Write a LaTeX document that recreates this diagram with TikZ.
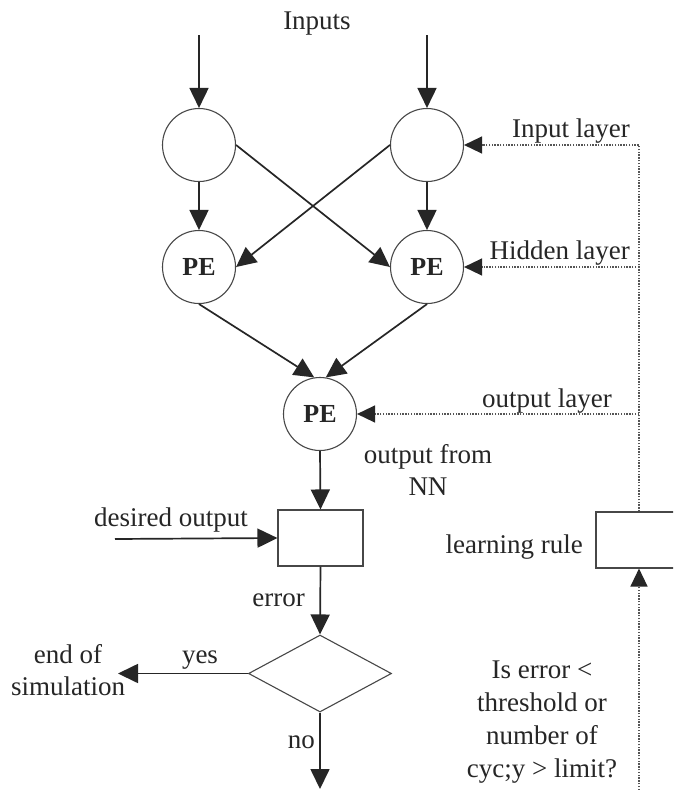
\documentclass[tikz,border=0pt]{standalone}
\usepackage{fontspec}
\setmainfont{Liberation Serif}
\usetikzlibrary{arrows.meta,shapes.geometric}
\definecolor{ink}{HTML}{262626}
\definecolor{rim}{HTML}{474747}
\definecolor{dots}{HTML}{555555}
\tikzset{
  lbl/.style={font=\fontsize{27}{32}\selectfont, text=ink, inner sep=0pt},
  neuron/.style={circle, draw=rim, line width=1.1pt, minimum size=73pt, inner sep=0pt,
    font=\fontsize{26}{30}\selectfont\bfseries, text=ink},
  blockbox/.style={rectangle, draw=rim, line width=1.1pt, inner sep=0pt},
  decision/.style={diamond, draw=rim, line width=1.1pt, inner sep=0pt,
    minimum width=143pt, minimum height=77pt},
  flow/.style={draw=ink, line width=1.7pt, line join=miter,
    -{Triangle[length=20pt,width=19pt,color=ink]}},
  feedback/.style={draw=dots, line width=1.3pt, dash pattern=on 1.4pt off 1.4pt},
  fbarrow/.style={feedback, -{Triangle[length=18pt,width=17pt,color=ink]}},
}
\begin{document}
\begin{tikzpicture}[x=1pt, y=-1pt]
  \useasboundingbox (0,0) rectangle (673,790);
  \fill[white] (0,0) rectangle (673,790);
  \clip (0,0) rectangle (673,790);

  % network: input, hidden and output processing elements
  \node[neuron] (i1) at (199,145) {};
  \node[neuron] (i2) at (427,145) {};
  \node[neuron] (h1) at (199,267) {PE};
  \node[neuron] (h2) at (427,267) {PE};
  \node[neuron] (o)  at (320,414) {PE};

  % comparator, decision and learning rule blocks
  \node[blockbox, minimum width=85pt, minimum height=56pt] (cmp) at (320.5,538) {};
  \node[decision] (dec) at (320,673.5) {};
  \node[blockbox, minimum width=110pt, minimum height=56pt] (rule) at (651,540) {};

  % free ends of connectors
  \coordinate (in1) at (199,35);
  \coordinate (in2) at (427,35);
  \coordinate (des) at (115,539);
  \coordinate (sim) at (118,673.5);
  \coordinate (cont) at (320,789);
  \coordinate (c1) at (639,145);
  \coordinate (c2) at (639,267);
  \coordinate (c3) at (639,414);
  \coordinate (cb) at (639,790);

  % labels (multi-line nodes are placed by the baseline of their last line)
  \node[lbl, anchor=base] (tin) at (317,29) {Inputs};
  \node[lbl, anchor=base east] (til) at (630,137) {Input layer};
  \node[lbl, anchor=base east] (thl) at (630,259) {Hidden layer};
  \node[lbl, anchor=base east] (tol) at (612,407) {output layer};
  \node[lbl, anchor=base, align=center] (tnn) at (428,495) {output from\\NN};
  \node[lbl, anchor=base] (tdo) at (171,526) {desired output};
  \node[lbl, anchor=base east] (ter) at (305,606) {error};
  \node[lbl, anchor=base] (tye) at (200,663) {yes};
  \node[lbl, anchor=base, align=center] (tes) at (68,695) {end of\\simulation};
  \node[lbl, anchor=base east] (tno) at (315,748) {no};
  \node[lbl, anchor=base east] (tlr) at (583,553) {learning rule};
  \node[lbl, anchor=base, align=center, font=\fontsize{27}{33}\selectfont] (tq) at (542,777)
    {Is error <\\threshold or\\number of\\cyc;y > limit?};

  % forward connections
  \draw[flow] (in1) -- (i1.north);
  \draw[flow] (in2) -- (i2.north);
  \draw[flow] (i1.south) -- (h1.north);
  \draw[flow] (i2.south) -- (h2.north);
  \draw[flow] (i1.east) -- (h2.west);
  \draw[flow] (i2.west) -- (h1.east);
  \draw[flow] (h1.south) -- (o.99);
  \draw[flow] (h2.south) -- (o.81);
  \draw[flow] (o.south) -- (cmp.north);
  \draw[flow] (des) -- (cmp.west);
  \draw[flow] (cmp.south) -- (dec.north);
  \draw[flow] (dec.west) -- (sim);
  \draw[flow] (dec.south) -- (cont);

  % feedback from the learning rule
  \draw[fbarrow] (rule.north -| c1) -- (c1) -- (i2.east);
  \draw[fbarrow] (c2) -- (h2.east);
  \draw[fbarrow] (c3) -- (o.east);
  \draw[fbarrow] (cb) -- (rule.south -| cb);
\end{tikzpicture}
\end{document}
